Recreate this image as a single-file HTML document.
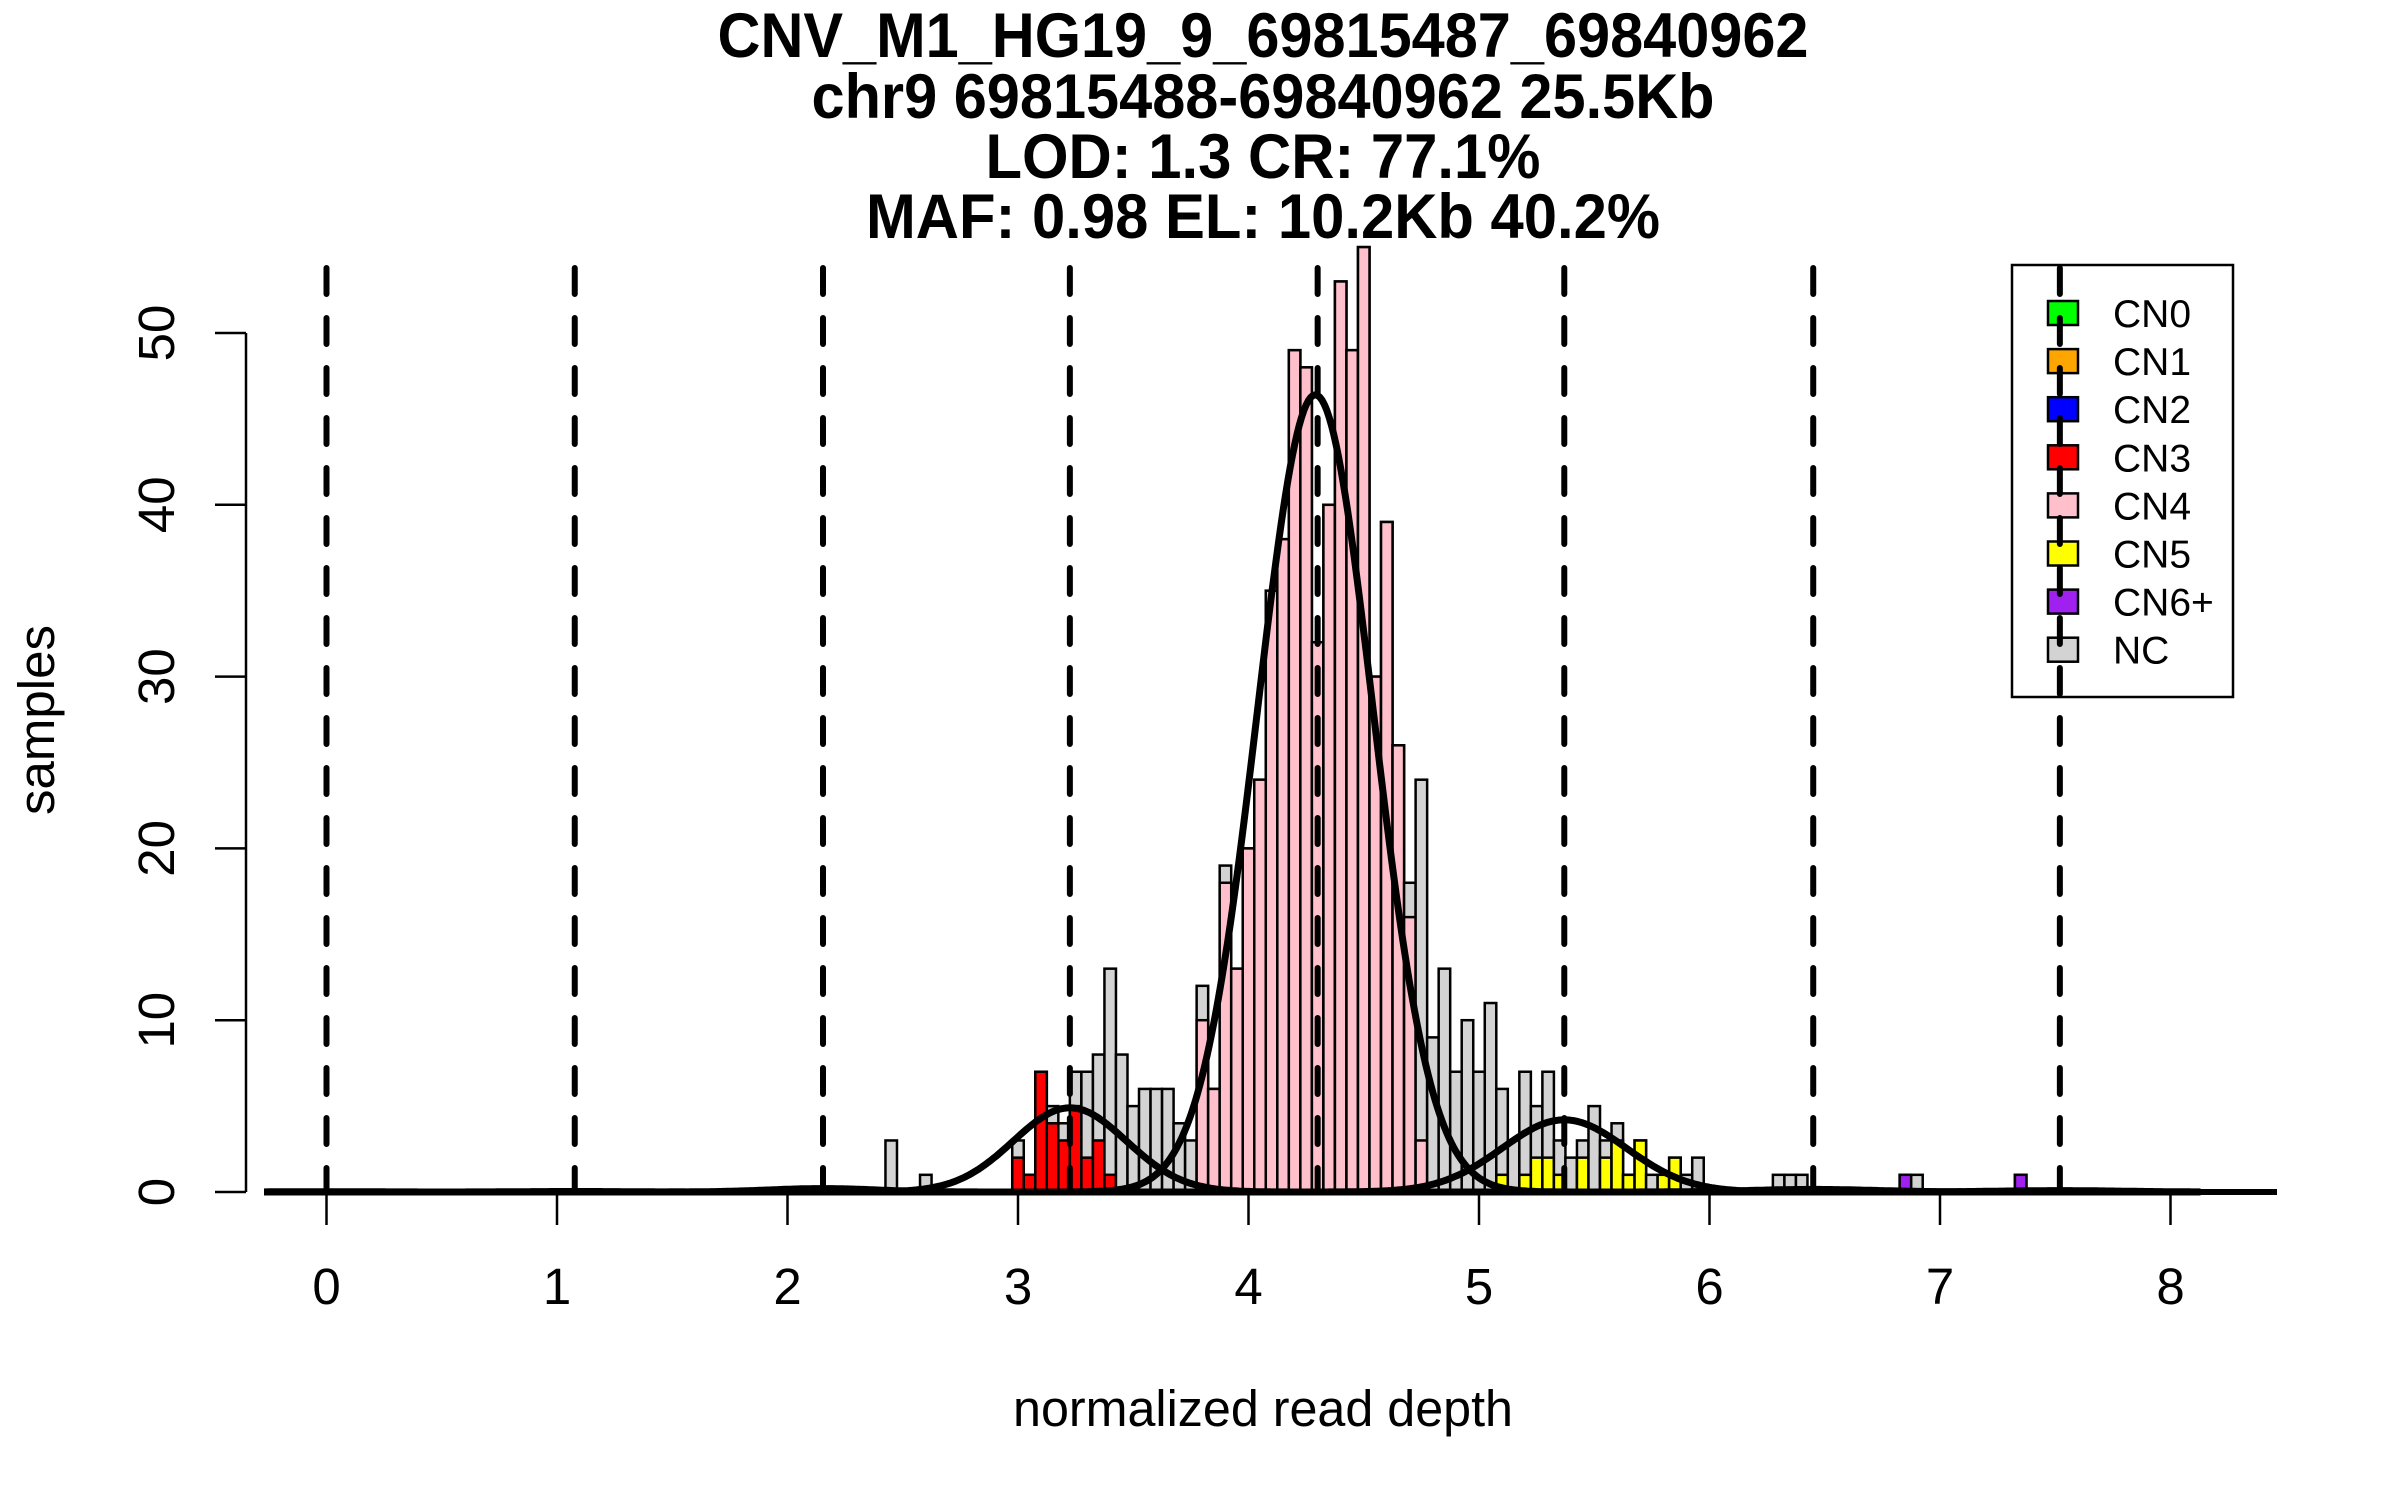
<!DOCTYPE html>
<html><head><meta charset="utf-8"><style>
html,body{margin:0;padding:0;background:#fff;}
svg{display:block;font-family:"Liberation Sans",Arial,sans-serif;}
</style></head><body>
<svg id="chart" xmlns="http://www.w3.org/2000/svg" width="2400" height="1500" viewBox="0 0 2400 1500">
<rect x="0" y="0" width="2400" height="1500" fill="#fff"/>
<g font-weight="bold" font-size="63" text-anchor="middle">
<text x="1263" y="57" textLength="1091" lengthAdjust="spacingAndGlyphs">CNV_M1_HG19_9_69815487_69840962</text>
<text x="1263" y="118" textLength="903" lengthAdjust="spacingAndGlyphs">chr9 69815488-69840962 25.5Kb</text>
<text x="1263" y="178" textLength="555" lengthAdjust="spacingAndGlyphs">LOD: 1.3 CR: 77.1%</text>
<text x="1263" y="238" textLength="794" lengthAdjust="spacingAndGlyphs">MAF: 0.98 EL: 10.2Kb 40.2%</text>
</g>
<g id="bars"></g>
<g id="curves"></g>
<g id="axes"></g>
<g id="legend"></g>
<g id="dashes"></g>
<text x="1263" y="1426" font-size="51" text-anchor="middle" textLength="500" lengthAdjust="spacingAndGlyphs">normalized read depth</text>
<text transform="translate(54,720) rotate(-90)" font-size="51" text-anchor="middle">samples</text>
</svg>
<script>
// ---- data ----
const binCenters = [2.45,2.6,3.0,3.05,3.1,3.15,3.2,3.25,3.3,3.35,3.4,3.45,3.5,3.55,3.6,3.65,3.7,3.75,3.8,3.85,3.9,3.95,4.0,4.05,4.1,4.15,4.2,4.25,4.3,4.35,4.4,4.45,4.5,4.55,4.6,4.65,4.7,4.75,4.8,4.85,4.9,4.95,5.0,5.05,5.1,5.15,5.2,5.25,5.3,5.35,5.4,5.45,5.5,5.55,5.6,5.65,5.7,5.75,5.8,5.85,5.9,5.95,6.3,6.35,6.4,6.85,6.9,7.35];
const totalCounts = [3,1,3,1,7,5,4,7,7,8,13,8,5,6,6,6,4,3,12,6,19,13,20,24,35,38,49,48,32,40,53,49,55,30,39,26,18,24,9,13,7,10,7,11,6,3,7,5,7,3,2,3,5,3,4,1,3,1,1,2,1,2,1,1,1,1,1,1];
const calledCounts = [0,0,2,1,7,4,3,5,2,3,1,0,0,0,0,0,0,0,10,6,18,13,20,24,35,38,49,48,32,40,53,49,55,30,39,26,16,3,0,0,0,0,0,0,1,0,1,2,2,1,0,2,0,2,3,1,3,0,1,2,0,0,0,0,0,1,0,1];
const calledCN = [0,0,3,3,3,3,3,3,3,3,3,0,0,0,0,0,0,0,4,4,4,4,4,4,4,4,4,4,4,4,4,4,4,4,4,4,4,4,0,0,0,0,0,0,5,0,5,5,5,5,0,5,0,5,5,5,5,0,5,5,0,0,0,0,0,6,0,6];
const binWidth = 0.05;
const compMeans = [0,1.077,2.154,3.225,4.29,5.37,6.45,7.52];
const compHeights = [0.02,0.03,0.2,4.9,46.4,4.2,0.15,0.08];
const compSds = [0.2,0.22,0.23,0.245,0.25,0.27,0.27,0.27];
const boundaries = [0,1.077,2.154,3.225,4.3,5.37,6.45,7.52];
const xTicks = [0,1,2,3,4,5,6,7,8];
const yTicks = [0,10,20,30,40,50];
const legendLabels = ["CN0","CN1","CN2","CN3","CN4","CN5","CN6+","NC"];
const legendColors = ["#00FF00","#FFA500","#0000FF","#FF0000","#FFC0CB","#FFFF00","#A020F0","#D3D3D3"];
const cnColors = {3:"#FF0000",4:"#FFC0CB",5:"#FFFF00",6:"#A020F0"};

// ---- scales ----
const NS="http://www.w3.org/2000/svg";
const X0=326.5, XU=230.5, Y0=1192, YU=17.18;
const sx=v=>X0+v*XU, sy=c=>Y0-c*YU;
function mk(tag,attrs,parent){const e=document.createElementNS(NS,tag);for(const k in attrs)e.setAttribute(k,attrs[k]);parent.appendChild(e);return e;}

// ---- bars ----
const gb=document.getElementById('bars');
binCenters.forEach((c,i)=>{
  const x1=sx(c-binWidth/2), w=binWidth*XU;
  const r=mk('rect',{x:x1,y:sy(totalCounts[i]),width:w,height:totalCounts[i]*YU,fill:'#D3D3D3',stroke:'#000','stroke-width':2.5},gb);
  
  
  if(calledCounts[i]>0){
    const r2=mk('rect',{x:x1,y:sy(calledCounts[i]),width:w,height:calledCounts[i]*YU,fill:cnColors[calledCN[i]],stroke:'#000','stroke-width':2.5},gb);
    
    
  }
});

// ---- density curves ----
const gc=document.getElementById('curves');
const base=mk('line',{x1:264,x2:2277,y1:Y0,y2:Y0,stroke:'#000','stroke-width':6},gc);


compMeans.forEach((m,k)=>{
  let d='';
  for(let v=-0.27;v<=8.13;v+=0.01){
    const c=compHeights[k]*Math.exp(-0.5*Math.pow((v-m)/compSds[k],2));
    d+=(d?'L':'M')+sx(v).toFixed(1)+','+sy(c).toFixed(1);
  }
  const p=mk('path',{d:d,fill:'none',stroke:'#000','stroke-width':7,'stroke-linejoin':'round'},gc);
  
  
});

// ---- axes ----
const ga=document.getElementById('axes');
const xl=mk('line',{x1:sx(xTicks[0]),x2:sx(xTicks[xTicks.length-1]),y1:1194,y2:1194,stroke:'#000','stroke-width':2.5},ga);


xTicks.forEach(t=>{
  const l=mk('line',{x1:sx(t),x2:sx(t),y1:1194,y2:1225,stroke:'#000','stroke-width':2.5},ga);
  
  
  const tx=mk('text',{x:sx(t),y:1304,'font-size':51,'text-anchor':'middle'},ga);
  tx.textContent=t;
  
  
});
const yl=mk('line',{x1:246,x2:246,y1:sy(yTicks[0]),y2:sy(yTicks[yTicks.length-1]),stroke:'#000','stroke-width':2.5},ga);


yTicks.forEach(t=>{
  const l=mk('line',{x1:215,x2:246,y1:sy(t),y2:sy(t),stroke:'#000','stroke-width':2.5},ga);
  
  
  const tx=mk('text',{transform:'translate(174,'+sy(t)+') rotate(-90)','font-size':51,'text-anchor':'middle'},ga);
  tx.textContent=t;
  
  
});

// ---- legend ----
const gl=document.getElementById('legend');
const box=mk('rect',{x:2012,y:265,width:221,height:432,fill:'#fff',stroke:'#000','stroke-width':2.5},gl);


legendLabels.forEach((lab,i)=>{
  const cy=313+i*48.1;
  const s=mk('rect',{x:2048,y:cy-12,width:30,height:24,fill:legendColors[i],stroke:'#000','stroke-width':2.5},gl);
  
  
  const t=mk('text',{x:2113,y:cy+14,'font-size':39},gl);
  t.textContent=lab;
  
  
});

// ---- dashed boundaries ----
const gd=document.getElementById('dashes');
boundaries.forEach(b=>{
  const l=mk('line',{x1:sx(b),x2:sx(b),y1:268,y2:1192,stroke:'#000','stroke-width':6,'stroke-dasharray':'26 24','stroke-linecap':'round'},gd);
  
  
});
</script>
</body></html>
